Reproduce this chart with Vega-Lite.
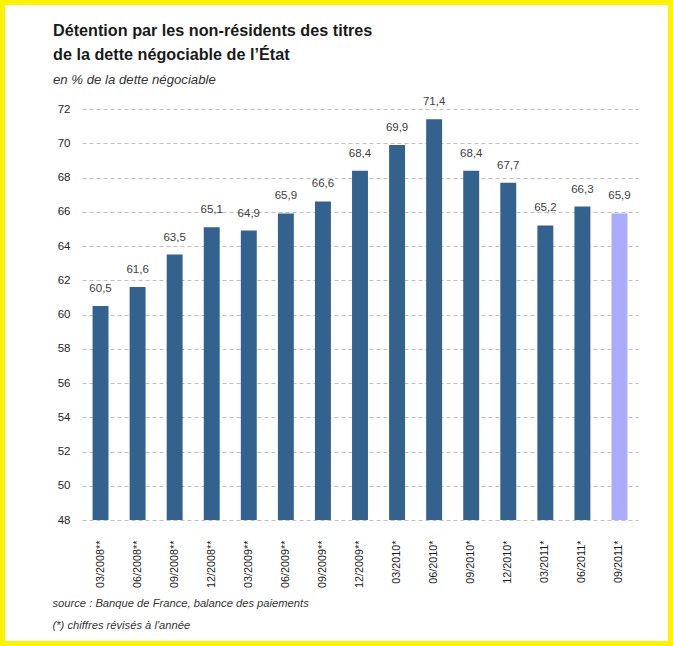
{
  "$schema": "https://vega.github.io/schema/vega-lite/v6.json",
  "width": 663,
  "height": 636,
  "autosize": {"type": "none"},
  "padding": 5,
  "background": "#fff200",
  "config": {
    "font": "Liberation Sans",
    "view": {"fill": "white", "stroke": null},
    "locale": {
      "number": {"decimal": ",", "thousands": " ", "grouping": [3], "currency": ["", " €"]}
    }
  },
  "title": {
    "text": ["Détention par les non-résidents des titres", "de la dette négociable de l’État"],
    "subtitle": "en % de la dette négociable",
    "anchor": "start",
    "frame": "group",
    "orient": "top",
    "offset": -81,
    "dx": 48,
    "fontSize": 16.2,
    "fontWeight": "bold",
    "color": "#1a1a1a",
    "lineHeight": 24,
    "subtitleFontSize": 13.2,
    "subtitleFontStyle": "italic",
    "subtitleColor": "#333333",
    "subtitlePadding": 11
  },
  "data": {
    "values": [
      {"periode": "03/2008**", "valeur": 60.5, "statut": "publié"},
      {"periode": "06/2008**", "valeur": 61.6, "statut": "publié"},
      {"periode": "09/2008**", "valeur": 63.5, "statut": "publié"},
      {"periode": "12/2008**", "valeur": 65.1, "statut": "publié"},
      {"periode": "03/2009**", "valeur": 64.9, "statut": "publié"},
      {"periode": "06/2009**", "valeur": 65.9, "statut": "publié"},
      {"periode": "09/2009**", "valeur": 66.6, "statut": "publié"},
      {"periode": "12/2009**", "valeur": 68.4, "statut": "publié"},
      {"periode": "03/2010*", "valeur": 69.9, "statut": "publié"},
      {"periode": "06/2010*", "valeur": 71.4, "statut": "publié"},
      {"periode": "09/2010*", "valeur": 68.4, "statut": "publié"},
      {"periode": "12/2010*", "valeur": 67.7, "statut": "publié"},
      {"periode": "03/2011*", "valeur": 65.2, "statut": "publié"},
      {"periode": "06/2011*", "valeur": 66.3, "statut": "publié"},
      {"periode": "09/2011*", "valeur": 65.9, "statut": "provisoire"}
    ]
  },
  "encoding": {
    "x": {
      "field": "periode",
      "type": "nominal",
      "sort": null,
      "scale": {"range": [77, 633], "paddingInner": 0.57, "paddingOuter": 0.285},
      "axis": {
        "title": ["source : Banque de France, balance des paiements", "(*) chiffres révisés à l'année"],
        "offset": -121,
        "labelAngle": -90,
        "labelPadding": 20,
        "labelFontSize": 10.8,
        "labelColor": "#1a1a1a",
        "domain": false,
        "ticks": false,
        "grid": false,
        "titleX": 47,
        "titleY": 86,
        "titleAnchor": "start",
        "titleAlign": "left",
        "titleBaseline": "alphabetic",
        "titleFontSize": 11.2,
        "titleFontStyle": "italic",
        "titleFontWeight": "normal",
        "titleColor": "#333333",
        "titleLineHeight": 22
      }
    },
    "y": {
      "field": "valeur",
      "type": "quantitative",
      "scale": {"domain": [48, 72], "range": [515, 104], "zero": false, "nice": false},
      "axis": {
        "title": null,
        "offset": -77,
        "values": [48, 50, 52, 54, 56, 58, 60, 62, 64, 66, 68, 70, 72],
        "domain": false,
        "ticks": false,
        "labelPadding": 12,
        "labelFontSize": 11.5,
        "labelColor": "#262626",
        "grid": true,
        "gridColor": "#bfbfbf",
        "gridDash": [4, 3],
        "gridWidth": 1
      }
    }
  },
  "layer": [
    {
      "mark": {"type": "bar"},
      "encoding": {
        "y2": {"datum": 48},
        "color": {
          "field": "statut",
          "type": "nominal",
          "scale": {"domain": ["publié", "provisoire"], "range": ["#33628f", "#aaaaff"]},
          "legend": null
        }
      }
    },
    {
      "mark": {"type": "text", "baseline": "alphabetic", "dy": -14, "fontSize": 11.5, "color": "#404040"},
      "encoding": {
        "text": {"field": "valeur", "type": "quantitative", "format": ".1f"}
      }
    }
  ]
}
